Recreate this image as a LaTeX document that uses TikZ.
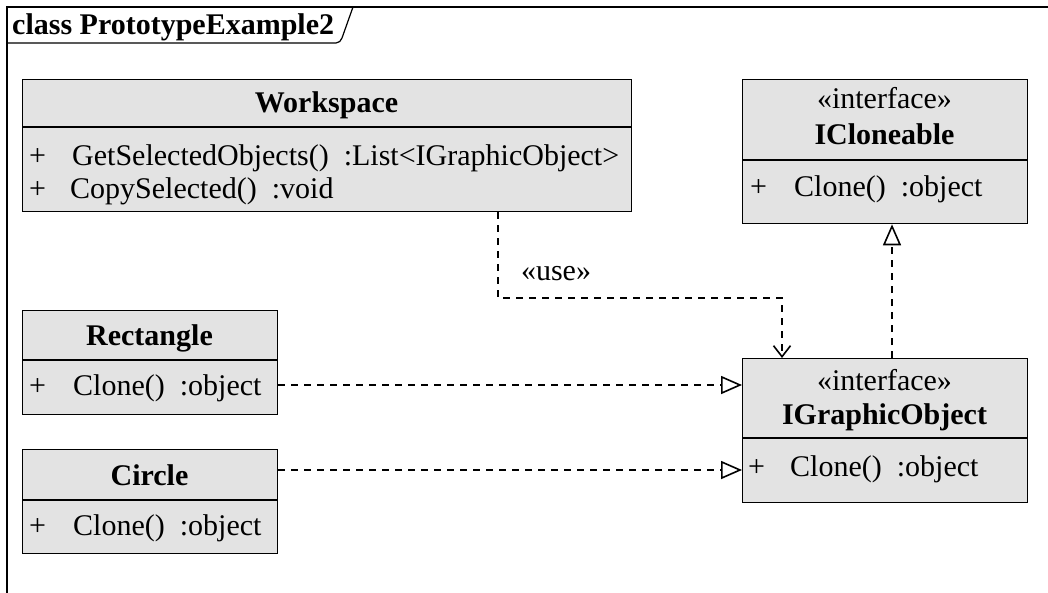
\documentclass[tikz,border=0pt]{standalone}
\usepackage{fontspec}
\setmainfont{Liberation Serif}
\usetikzlibrary{arrows.meta}
\definecolor{boxfill}{HTML}{E3E3E3}
\begin{document}
\begin{tikzpicture}[x=1pt,y=-1pt,
  classbox/.style={draw=black, fill=boxfill, line width=1.3pt, anchor=north west, inner sep=0pt},
  sep/.style={draw=black, line width=1.1pt},
  frame/.style={draw=black, line width=1.2pt},
  txt/.style={inner sep=0pt, anchor=base, font=\fontsize{30}{32}\selectfont},
  bold/.style={txt, font=\fontsize{30}{32}\selectfont\bfseries},
  lft/.style={txt, anchor=base west},
  dep/.style={draw=black, line width=1.3pt, dash pattern=on 7pt off 6pt},
  realize/.style={dep, -{Triangle[open, length=21pt, width=18pt, line width=1.6pt]}},
  usearrow/.style={dep, -{Straight Barb[length=11pt, width=17pt, line width=1.6pt]}}
]
\useasboundingbox (0,0) rectangle (1048,593);
% frame
\draw[frame] (1048,7) -- (7,7) -- (7,600);
\draw[frame] (7,43) -- (336,43) to[out=0,in=-112] (342,38) -- (353,7);
\node[bold, anchor=base west] (title) at (12,35) {class PrototypeExample2};

% Workspace
\node[classbox, minimum width=609pt, minimum height=132pt] (ws) at (22,79) {};
\draw[sep] (22,127) -- (631,127);
\node[bold] (wsname) at (326.5,113) {Workspace};
\node[lft] (wsp1) at (29,166) {+};
\node[lft] (wsm1) at (72,166) {GetSelectedObjects()\hspace{0.5em}:List<IGraphicObject>};
\node[lft] (wsp2) at (29,199) {+};
\node[lft] (wsm2) at (70,199) {CopySelected()\hspace{0.5em}:void};

% ICloneable
\node[classbox, minimum width=285pt, minimum height=144pt] (ic) at (742,79) {};
\draw[sep] (742,160) -- (1027,160);
\node[txt] (icst) at (884.5,109) {«interface»};
\node[bold] (icname) at (884.5,145) {ICloneable};
\node[lft] (icp) at (750,197) {+};
\node[lft] (icm) at (794,197) {Clone()\hspace{0.5em}:object};

% Rectangle
\node[classbox, minimum width=255pt, minimum height=104pt] (rect) at (22,310) {};
\draw[sep] (22,360) -- (277,360);
\node[bold] (rectname) at (149.5,345) {Rectangle};
\node[lft] (rectp) at (29,395) {+};
\node[lft] (rectm) at (73,395) {Clone()\hspace{0.5em}:object};

% Circle
\node[classbox, minimum width=255pt, minimum height=104pt] (circ) at (22,449) {};
\draw[sep] (22,500) -- (277,500);
\node[bold] (circname) at (149.5,485) {Circle};
\node[lft] (circp) at (29,535) {+};
\node[lft] (circm) at (73,535) {Clone()\hspace{0.5em}:object};

% IGraphicObject
\node[classbox, minimum width=285pt, minimum height=144pt] (igo) at (742,358) {};
\draw[sep] (742,438) -- (1027,438);
\node[txt] (igost) at (884.5,390) {«interface»};
\node[bold] (igoname) at (884.5,424) {IGraphicObject};
\node[lft] (igop) at (748,476) {+};
\node[lft] (igom) at (790,476) {Clone()\hspace{0.5em}:object};

% connectors
\coordinate (ubend) at (498,298);
\draw[usearrow] ([xshift=476pt]ws.south west) -- (ubend) -| ([xshift=40pt]igo.north west);
\node[txt] (uselbl) at (556,280) {«use»};
\draw[realize] ([xshift=150pt]igo.north west) -- ([xshift=150pt]ic.south west);
\draw[realize] ([yshift=-75pt]rect.north east) -- ([yshift=-75pt]rect.north east -| igo.west);
\draw[realize] ([yshift=-21pt]circ.north east) -- ([yshift=-21pt]circ.north east -| igo.west);
\end{tikzpicture}
\end{document}
